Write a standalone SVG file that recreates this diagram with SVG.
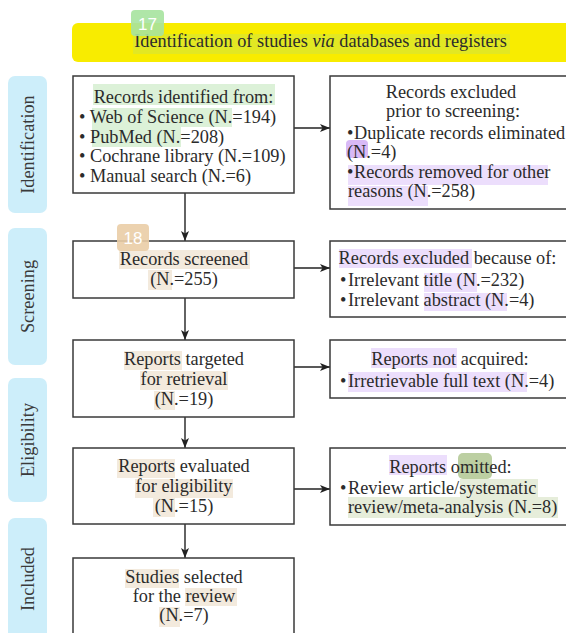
<svg xmlns="http://www.w3.org/2000/svg" width="566" height="633" viewBox="0 0 566 633">
<style>
.t{font-family:"Liberation Serif","Times New Roman",serif;font-size:18.3px;fill:#2b2b2b}
.m{text-anchor:middle}
.box{fill:#fff;stroke:#3a3a3a;stroke-width:1.5}
.ph{fill:#cdeefa}
.pt{font-family:"Liberation Serif","Times New Roman",serif;font-size:18.3px;fill:#3a3a3a;text-anchor:middle}
.hg{fill:#dcf1d8}
.hp{fill:#ecdefc}
.ht{fill:#f3eadd}
.ho{fill:#e6edda}
.badge{font-family:"Liberation Sans",Arial,sans-serif;font-size:17px;fill:#fff;text-anchor:middle}
.conn{stroke:#222;stroke-width:1.4;fill:none}
</style>
<defs>
<marker id="ah" viewBox="0 0 10 8" refX="10" refY="4" markerWidth="10" markerHeight="8" orient="auto" markerUnits="userSpaceOnUse"><path d="M0,0 L10,4 L0,8 L2.5,4 z" fill="#222"/></marker>
</defs>
<rect width="566" height="633" fill="#fff"/>

<g id="header">
<rect x="72" y="23" width="510" height="39" rx="6" fill="#f8ec00"/>
<rect x="133" y="34" width="377" height="20" fill="#a0dc8c" opacity="0.25"/>
<text class="t m" x="320.5" y="47">Identification of studies <tspan font-style="italic">via</tspan> databases and registers</text>
<rect x="131" y="10" width="33" height="26" rx="4" fill="#a6e39e" opacity="0.9"/>
<text class="badge" x="147.5" y="30">17</text>
</g>

<g id="phase-identification">
<rect class="ph" x="8" y="76" width="39" height="137" rx="7"/>
<text class="pt" transform="translate(34,144.5) rotate(-90)">Identification</text>
</g>
<g id="phase-screening">
<rect class="ph" x="8" y="228" width="39" height="137" rx="7"/>
<text class="pt" transform="translate(34,296.5) rotate(-90)">Screening</text>
</g>
<g id="phase-eligibility">
<rect class="ph" x="8" y="378" width="39" height="124" rx="7"/>
<text class="pt" transform="translate(34,440) rotate(-90)">Eligibility</text>
</g>
<g id="phase-included">
<rect class="ph" x="8" y="518" width="39" height="125" rx="7"/>
<text class="pt" transform="translate(34,579) rotate(-90)">Included</text>
</g>

<g id="connectors">
<line class="conn" x1="185" y1="193" x2="185" y2="241" marker-end="url(#ah)"/>
<line class="conn" x1="185" y1="298" x2="185" y2="340" marker-end="url(#ah)"/>
<line class="conn" x1="185" y1="417" x2="185" y2="448" marker-end="url(#ah)"/>
<line class="conn" x1="185" y1="524" x2="185" y2="558" marker-end="url(#ah)"/>
<line class="conn" x1="294" y1="128" x2="330" y2="128" marker-end="url(#ah)"/>
<line class="conn" x1="294" y1="268" x2="330" y2="268" marker-end="url(#ah)"/>
<line class="conn" x1="294" y1="367" x2="330" y2="367" marker-end="url(#ah)"/>
<line class="conn" x1="294" y1="489" x2="330" y2="489" marker-end="url(#ah)"/>
</g>

<g id="records-identified">
<rect class="box" x="73" y="76" width="221" height="117"/>
<rect class="hg" x="93" y="84" width="182" height="21"/>
<rect class="hg" x="92" y="108" width="140" height="19"/>
<rect class="hg" x="92" y="127" width="89" height="20"/>
<text class="t m" x="183.5" y="103">Records identified from:</text>
<text class="t" x="79" y="123">• Web of Science (N.=194)</text>
<text class="t" x="79" y="143">• PubMed (N.=208)</text>
<text class="t" x="79" y="162">• Cochrane library (N.=109)</text>
<text class="t" x="79" y="182">• Manual search (N.=6)</text>
</g>

<g id="records-excluded-prior">
<rect class="box" x="330" y="76" width="250" height="133"/>
<rect x="346" y="140" width="22" height="18" rx="4" fill="#d8b9f6"/>
<rect class="hp" x="348" y="165" width="200" height="20"/>
<rect class="hp" x="348" y="186" width="80" height="20"/>
<text class="t m" x="451" y="98">Records excluded</text>
<text class="t m" x="453" y="117">prior to screening:</text>
<text class="t" x="347" y="139">•</text>
<text class="t" x="354" y="139">Duplicate records eliminated</text>
<text class="t" x="347" y="158">(N.=4)</text>
<text class="t" x="347" y="178">•</text>
<text class="t" x="354" y="178">Records removed for other</text>
<text class="t" x="348" y="197">reasons (N.=258)</text>
</g>

<g id="records-screened">
<rect class="box" x="73" y="241" width="221" height="57"/>
<rect class="ht" x="119" y="250" width="131" height="19"/>
<rect class="ht" x="148" y="270" width="24" height="20"/>
<text class="t m" x="184" y="265">Records screened</text>
<text class="t m" x="184" y="285">(N.=255)</text>
<rect x="117" y="224" width="32" height="27" rx="4" fill="#eacda6" opacity="0.9"/>
<text class="badge" x="133" y="244">18</text>
</g>

<g id="records-excluded-because">
<rect class="box" x="330" y="241" width="250" height="76"/>
<rect class="hp" x="339" y="249" width="133" height="19"/>
<rect class="hp" x="424" y="273" width="53" height="19"/>
<rect class="hp" x="424" y="293" width="83" height="18"/>
<text class="t m" x="447.5" y="264">Records excluded because of:</text>
<text class="t" x="340" y="286">•</text>
<text class="t" x="348" y="286">Irrelevant title (N.=232)</text>
<text class="t" x="340" y="306">•</text>
<text class="t" x="348" y="306">Irrelevant abstract (N.=4)</text>
</g>

<g id="reports-targeted">
<rect class="box" x="73" y="340" width="221" height="77"/>
<rect class="ht" x="124" y="351" width="58" height="19"/>
<rect class="ht" x="140" y="371" width="88" height="19"/>
<rect class="ht" x="154" y="391" width="21" height="19"/>
<text class="t m" x="184" y="365">Reports targeted</text>
<text class="t m" x="184" y="385">for retrieval</text>
<text class="t m" x="184" y="405">(N.=19)</text>
</g>

<g id="reports-not-acquired">
<rect class="box" x="330" y="340" width="250" height="58"/>
<rect class="hp" x="371" y="348" width="86" height="20"/>
<rect class="hp" x="348" y="372" width="179" height="20"/>
<text class="t m" x="450" y="365">Reports not acquired:</text>
<text class="t" x="340" y="387">•</text>
<text class="t" x="348" y="387">Irretrievable full text (N.=4)</text>
</g>

<g id="reports-evaluated">
<rect class="box" x="73" y="448" width="221" height="76"/>
<rect class="ht" x="117" y="459" width="58" height="19"/>
<rect class="ht" x="135" y="479" width="98" height="19"/>
<rect class="ht" x="153" y="498" width="22" height="19"/>
<text class="t m" x="184" y="472">Reports evaluated</text>
<text class="t m" x="184" y="492">for eligibility</text>
<text class="t m" x="184" y="512">(N.=15)</text>
</g>

<g id="reports-omitted">
<rect class="box" x="330" y="448" width="250" height="77"/>
<rect class="hp" x="389" y="455" width="58" height="20"/>
<rect x="458" y="453" width="34" height="26" rx="5" fill="#bccfa2"/>
<rect class="ho" x="460" y="479" width="78" height="18"/>
<rect class="ho" x="348" y="497" width="210" height="21"/>
<text class="t m" x="450.5" y="473">Reports omitted:</text>
<text class="t" x="340" y="494">•</text>
<text class="t" x="348" y="494">Review article/systematic</text>
<text class="t" x="348" y="513">review/meta-analysis (N.=8)</text>
</g>

<g id="studies-selected">
<rect class="box" x="73" y="558" width="221" height="90"/>
<rect class="ht" x="125" y="569" width="54" height="19"/>
<rect class="ht" x="185" y="588" width="52" height="18"/>
<rect class="ht" x="159" y="607" width="21" height="20"/>
<text class="t m" x="184" y="583">Studies selected</text>
<text class="t m" x="184" y="602">for the review</text>
<text class="t m" x="184" y="621">(N.=7)</text>
</g>
</svg>
